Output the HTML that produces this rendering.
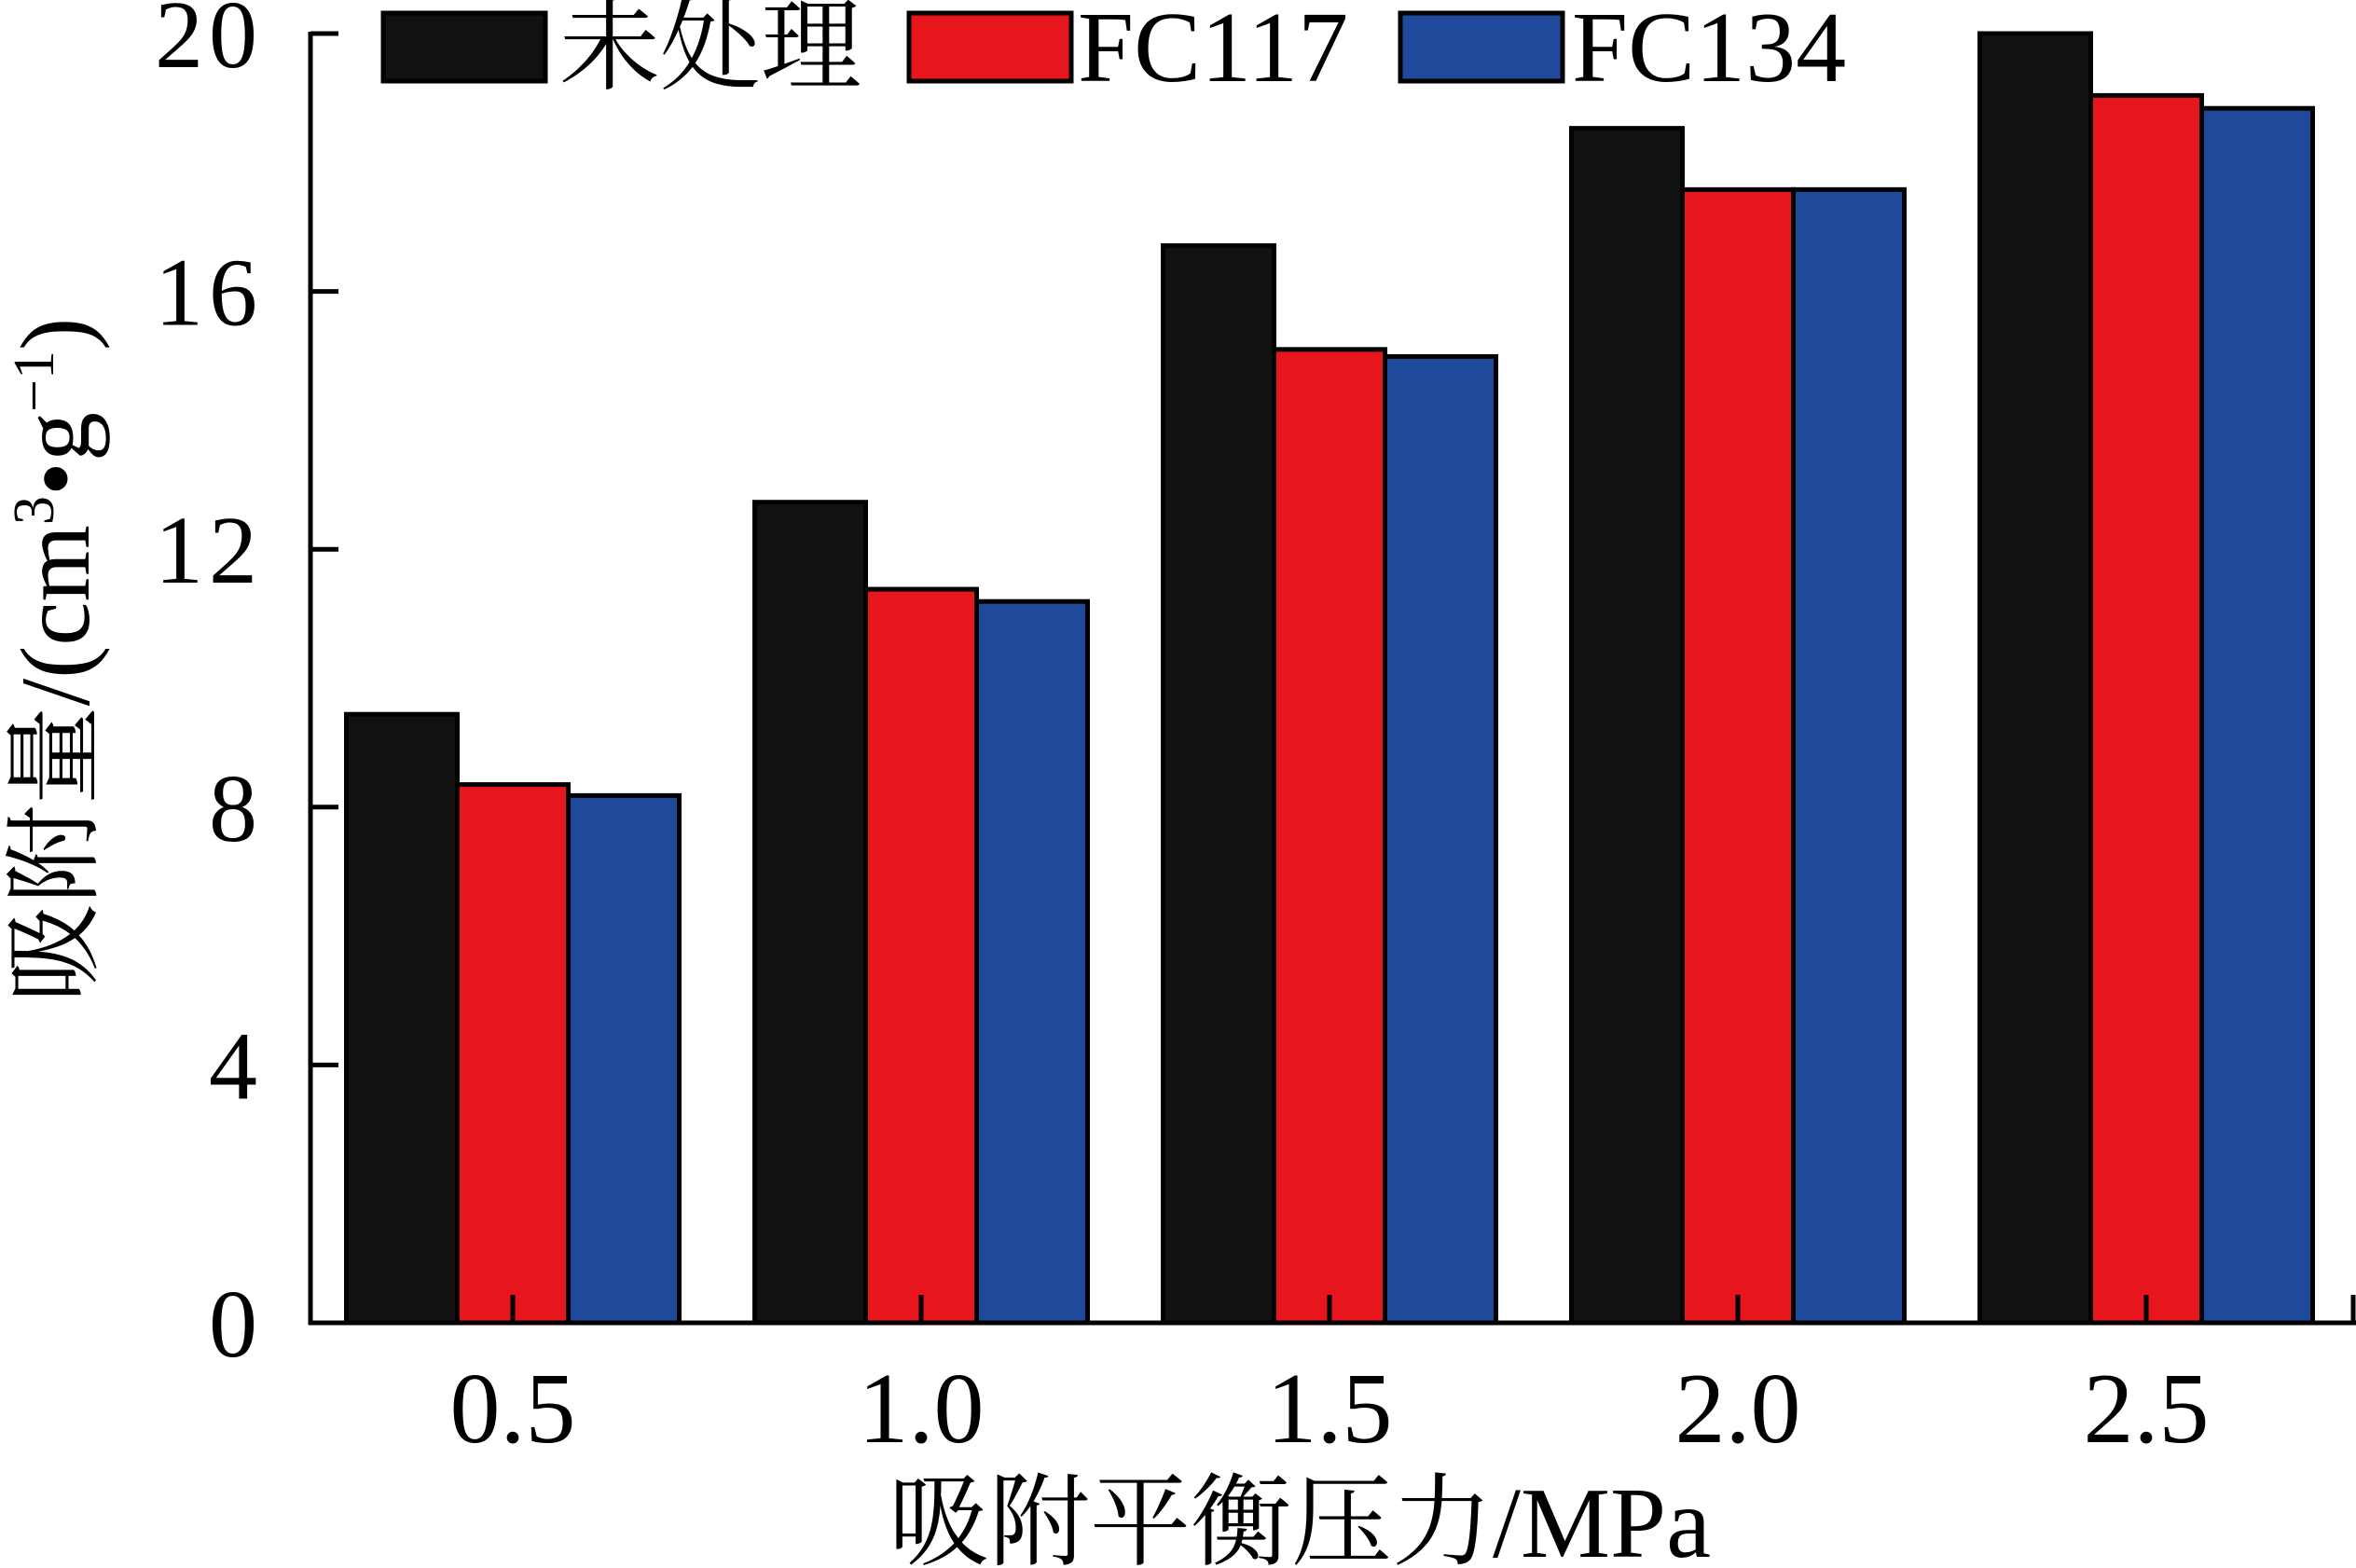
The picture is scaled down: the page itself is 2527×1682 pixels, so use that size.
<!DOCTYPE html>
<html><head><meta charset="utf-8"><style>
html,body{margin:0;padding:0;background:#fff;}
svg{display:block;}
text{font-family:"Liberation Serif","Noto Serif CJK SC","Noto Sans CJK SC",serif;fill:#000;}
</style></head><body>
<svg id="chart" width="2527" height="1682" viewBox="0 0 2527 1682" xmlns="http://www.w3.org/2000/svg">
<g id="bars"></g>
<g id="axes"></g>
<g id="legend"></g>
<text transform="translate(95,708) rotate(-90)" text-anchor="middle" font-size="106">吸附量/(cm<tspan font-size="62" dy="-38">3</tspan><tspan dy="38">•g</tspan><tspan font-size="62" dy="-38">−1</tspan><tspan dy="38">)</tspan></text>
<text x="1394" y="1670" text-anchor="middle" font-size="108">吸附平衡压力/MPa</text>
</svg>
<script>
const categories = ["0.5","1.0","1.5","2.0","2.5"];
const seriesNames = ["未处理","FC117","FC134"];
const untreated = [9.44, 12.73, 16.71, 18.53, 20.0];
const fc117 = [8.35, 11.38, 15.10, 17.58, 19.04];
const fc134 = [8.18, 11.19, 14.99, 17.58, 18.84];
const yTicks = [0, 4, 8, 12, 16, 20];

const NS = "http://www.w3.org/2000/svg";
const colors = ["#111111","#e6161c","#1f4a9c"];
const series = [untreated, fc117, fc134];
const x0 = 333, xEnd = 2527, y0 = 1419, yTop = 36;
const yScale = v => y0 - (v / 20) * (y0 - yTop);
const groupCenter = i => 550 + i * 438;
const barW = 119;
function mk(tag, attrs, parent){const e=document.createElementNS(NS,tag);for(const k in attrs)e.setAttribute(k,attrs[k]);parent.appendChild(e);return e;}
const bars = document.getElementById("bars");
series.forEach((s, si) => {
  s.forEach((v, ci) => {
    const x = groupCenter(ci) + (si - 1.5) * barW;
    const r = mk("rect", {x: x, y: yScale(v), width: barW, height: y0 - yScale(v), fill: colors[si], stroke: "#000", "stroke-width": 5}, bars);
    
    
  });
});
const axes = document.getElementById("axes");
const ya = mk("line", {x1: x0, y1: yTop - 2, x2: x0, y2: y0 + 2, stroke: "#000", "stroke-width": 5}, axes);


const xa = mk("line", {x1: x0 - 2, y1: y0, x2: xEnd, y2: y0, stroke: "#000", "stroke-width": 5}, axes);


yTicks.forEach(t => {
  const y = yScale(t);
  const l = mk("line", {x1: x0, y1: y, x2: x0 + 30, y2: y, stroke: "#000", "stroke-width": 5}, axes);
  
  
  const tx = mk("text", {x: 282, y: y + 36, "text-anchor": "end", "font-size": 104, "letter-spacing": 6}, axes);
  tx.textContent = t;
  
  
});
categories.forEach((c, i) => {
  const x = groupCenter(i);
  const l = mk("line", {x1: x, y1: y0, x2: x, y2: y0 - 30, stroke: "#000", "stroke-width": 5}, axes);
  
  
  const tx = mk("text", {x: x, y: 1547, "text-anchor": "middle", "font-size": 108}, axes);
  tx.textContent = c;
  
  
});
const rt = mk("line", {x1: xEnd - 3, y1: y0, x2: xEnd - 3, y2: y0 - 30, stroke: "#000", "stroke-width": 5}, axes);


const legend = document.getElementById("legend");
const legBoxes = [411, 975, 1502];
const legText = [600, 1156, 1686];
seriesNames.forEach((n, i) => {
  const r = mk("rect", {x: legBoxes[i], y: 14, width: 174, height: 73, fill: colors[i], stroke: "#000", "stroke-width": 5}, legend);
  
  
  const t = mk("text", {x: legText[i], y: 87, "font-size": 108}, legend);
  t.textContent = n;
  
  
});
</script>
</body></html>
